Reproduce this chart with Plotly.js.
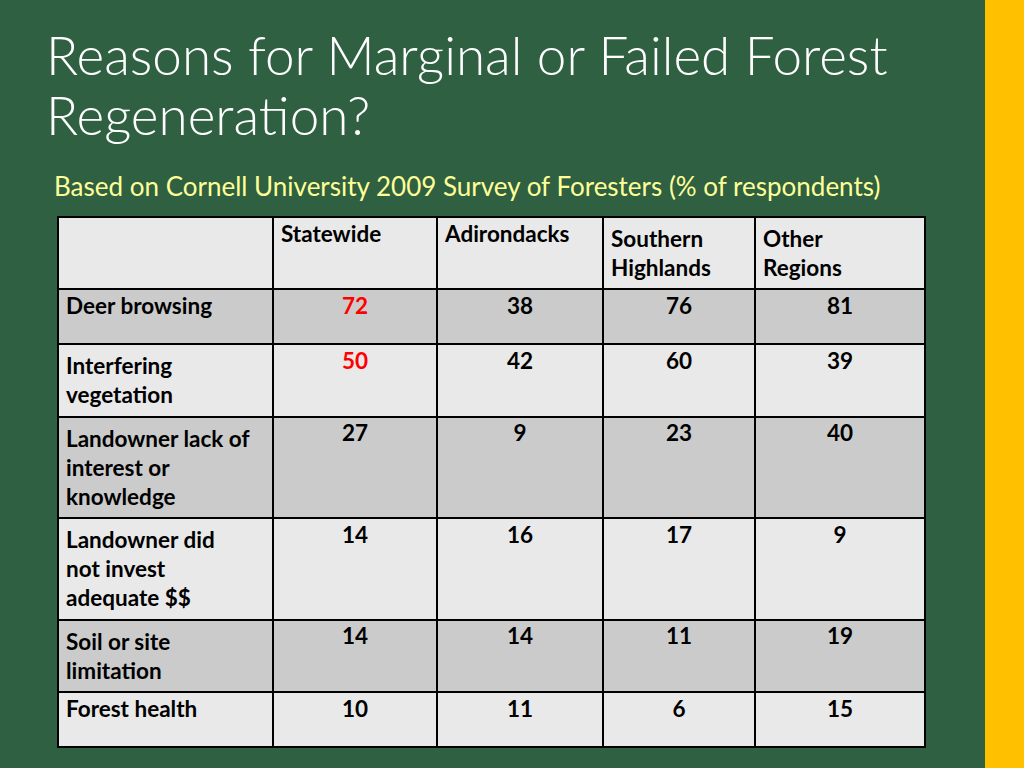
<!DOCTYPE html>
<html>
<head>
<meta charset="utf-8">
<script src="https://cdn.plot.ly/plotly-3.0.1.min.js"></script>
<style>
  html, body { margin: 0; padding: 0; background: #2E6041; }
  #chart { width: 1024px; height: 768px; }
</style>
</head>
<body>
<div id="chart"></div>
<script>
// ---- data ----
const titleLine1 = 'Reasons for Marginal or Failed Forest';
const titleLine2 = 'Regeneration?';
const subtitle = 'Based on Cornell University 2009 Survey of Foresters (% of respondents)';

const columnHeaders = ['', 'Statewide', 'Adirondacks', 'Southern<br>Highlands', 'Other<br>Regions'];
const reasons = [
  'Deer browsing',
  'Interfering<br>vegetation',
  'Landowner lack of<br>interest or<br>knowledge',
  'Landowner did<br>not invest<br>adequate $$',
  'Soil or site<br>limitation',
  'Forest health'
];
const statewide   = [72, 50, 27, 14, 14, 10];
const adirondacks = [38, 42,  9, 16, 14, 11];
const southern    = [76, 60, 23, 17, 11,  6];
const other       = [81, 39, 40,  9, 19, 15];
const highlightedStatewideRows = [0, 1];

// ---- styling ----
const FONT = 'Lato, "Open Sans", "DejaVu Sans", sans-serif';
const bg = '#2E6041';
const lightFill = '#E9E9E9';
const darkFill = '#CBCBCB';

const rowFills = reasons.map((_, i) => (i % 2 === 0 ? darkFill : lightFill));
const valueColumns = [statewide, adirondacks, southern, other];
const fontColors = [
  reasons.map(() => 'black'),
  statewide.map((_, i) => highlightedStatewideRows.includes(i) ? '#FF0000' : 'black'),
  adirondacks.map(() => 'black'),
  southern.map(() => 'black'),
  other.map(() => 'black')
];

const W = 1024, H = 768;
const tableLeft = 58, tableRight = 925, tableTop = 217;

const trace = {
  type: 'table',
  domain: { x: [tableLeft / W, tableRight / W], y: [0, 1 - tableTop / H] },
  columnwidth: [215, 164, 166, 152, 170],
  header: {
    values: columnHeaders,
    align: 'left',
    height: 55,
    line: { color: 'black', width: 2 },
    fill: { color: lightFill },
    font: { family: FONT, size: 22.5, color: 'black', weight: 'bold' }
  },
  cells: {
    values: [reasons].concat(valueColumns),
    align: ['left', 'center', 'center', 'center', 'center'],
    height: 55,
    line: { color: 'black', width: 2 },
    fill: { color: [rowFills, rowFills, rowFills, rowFills, rowFills] },
    font: { family: FONT, size: 22.5, color: fontColors, weight: 'bold' }
  }
};

const layout = {
  width: W, height: H,
  margin: { l: 0, r: 0, t: 0, b: 0 },
  paper_bgcolor: bg,
  plot_bgcolor: bg,
  showlegend: false,
  shapes: [
    { type: 'rect', xref: 'paper', yref: 'paper', x0: 985 / W, x1: 1, y0: 0, y1: 1,
      fillcolor: '#FFC000', line: { width: 0 }, layer: 'below' }
  ],
  annotations: [
    { text: titleLine1, xref: 'paper', yref: 'paper', x: 44 / W, y: 1 - 54 / H,
      xanchor: 'left', yanchor: 'middle', showarrow: false,
      font: { family: FONT, size: 53, color: 'white', weight: 300 } },
    { text: titleLine2, xref: 'paper', yref: 'paper', x: 44 / W, y: 1 - 114 / H,
      xanchor: 'left', yanchor: 'middle', showarrow: false,
      font: { family: FONT, size: 53, color: 'white', weight: 300 } },
    { text: subtitle, xref: 'paper', yref: 'paper', x: 52 / W, y: 1 - 186 / H,
      xanchor: 'left', yanchor: 'middle', showarrow: false,
      font: { family: FONT, size: 26, color: '#FFFF99' } }
  ]
};

Plotly.newPlot('chart', [trace], layout, { displayModeBar: false, staticPlot: true });
</script>
</body>
</html>
